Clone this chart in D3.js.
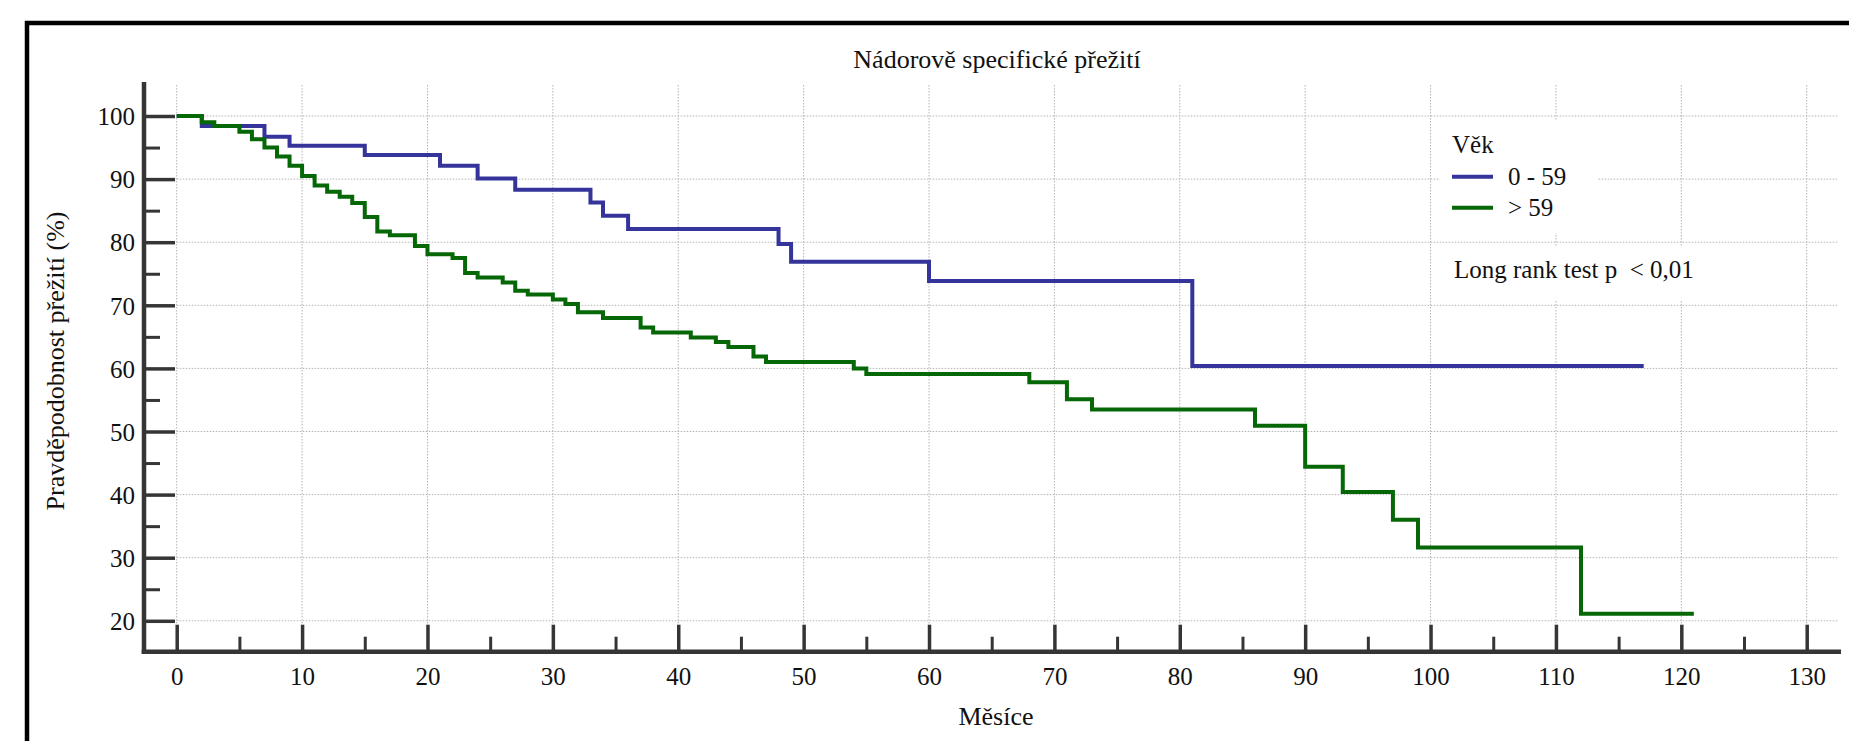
<!DOCTYPE html>
<html>
<head>
<meta charset="utf-8">
<script src="https://cdn.jsdelivr.net/npm/d3@7"></script>
<style>
  html, body { margin: 0; padding: 0; background: #fff; }
  svg { display: block; }
  text { font-family: "Liberation Serif", "Times New Roman", serif; fill: #111; }
</style>
</head>
<body>
<svg id="chart" width="1849" height="741"></svg>
<script>
// ---- Data ----
const seriesNames = ["0 - 59", "> 59"];
const seriesColors = ["#34349a", "#056705"];

// Kaplan-Meier step curve: age 0-59
const youngMonths = [0, 2, 7, 9, 15, 21, 24, 27, 33, 34, 36, 48, 49, 60, 81, 117];
const youngSurvival = [100, 98.4, 96.7, 95.3, 93.8, 92.1, 90.1, 88.3, 86.3, 84.2, 82.1, 79.7, 76.9, 73.85, 60.4, 60.4];

// Kaplan-Meier step curve: age > 59
const oldMonths = [0, 2, 3, 5, 6, 7, 8, 9, 10, 11, 12, 13, 14, 15, 16, 17, 19, 20, 22, 23, 24, 26, 27, 28, 30, 31, 32, 34, 37, 38, 41, 43, 44, 46, 47, 54, 55, 68, 71, 73, 86, 90, 93, 97, 99, 112, 121];
const oldSurvival = [100, 99.0, 98.4, 97.5, 96.3, 95.0, 93.6, 92.1, 90.5, 89.0, 88.0, 87.2, 86.2, 84.0, 81.7, 81.1, 79.4, 78.1, 77.5, 75.1, 74.4, 73.6, 72.3, 71.7, 70.9, 70.2, 68.9, 68.0, 66.5, 65.7, 64.9, 64.2, 63.4, 61.9, 61.0, 60.0, 59.1, 57.8, 55.1, 53.5, 50.9, 44.4, 40.4, 36.0, 31.6, 21.1, 21.1];

const xMajorTicks = [0, 10, 20, 30, 40, 50, 60, 70, 80, 90, 100, 110, 120, 130];
const xMinorTicks = [5, 15, 25, 35, 45, 55, 65, 75, 85, 95, 105, 115, 125];
const yMajorTicks = [20, 30, 40, 50, 60, 70, 80, 90, 100];
const yMinorTicks = [25, 35, 45, 55, 65, 75, 85, 95];

const titleText = "Nádorově specifické přežití";
const xLabel = "Měsíce";
const yLabel = "Pravděpodobnost přežití (%)";
const legendTitle = "Věk";
const testText = "Long rank test p < 0,01";

// ---- Layout ----
const svg = d3.select("#chart");
const x = d3.scaleLinear().domain([0, 130]).range([176.7, 1806.7]);
const y = d3.scaleLinear().domain([20, 100]).range([620.8, 116]);
const axisX = 144;      // position of vertical axis line
const axisY = 651.7;    // position of horizontal axis line
const axisColor = "#353535";

// Outer frame
svg.append("path")
  .attr("d", "M27,741V23H1849")
  .attr("fill", "none").attr("stroke", "#000").attr("stroke-width", 4.5);

// Grid
const grid = svg.append("g")
  .attr("stroke", "#b4b4b4").attr("stroke-width", 1).attr("stroke-dasharray", "1.5,1.5");
grid.selectAll("line.v").data(xMajorTicks).join("line")
  .attr("x1", d => x(d)).attr("x2", d => x(d))
  .attr("y1", 85).attr("y2", axisY - 2);
grid.selectAll("line.h").data(yMajorTicks).join("line")
  .attr("x1", x(0)).attr("x2", 1838)
  .attr("y1", d => y(d)).attr("y2", d => y(d));

// White backgrounds behind legend and test text
svg.append("rect").attr("x", 1440).attr("y", 120).attr("width", 157).attr("height", 113).attr("fill", "#fff");
svg.append("rect").attr("x", 1440).attr("y", 246).attr("width", 262).attr("height", 54).attr("fill", "#fff");

// Curves
const line = d3.line()
  .x(d => x(d[0])).y(d => y(d[1]))
  .curve(d3.curveStepAfter);

const curves = [
  d3.zip(youngMonths, youngSurvival),
  d3.zip(oldMonths, oldSurvival)
];
curves.forEach((pts, i) => {
  svg.append("path")
    .datum(pts)
    .attr("d", line)
    .attr("fill", "none")
    .attr("stroke", seriesColors[i])
    .attr("stroke-width", 4)
    .attr("stroke-linejoin", "miter")
    .attr("stroke-linecap", "butt");
});

// Y axis (ticks pointing inward to the right)
const yAxisG = svg.append("g").attr("transform", `translate(${axisX},0)`);
yAxisG.call(d3.axisLeft(y).tickValues(yMajorTicks).tickSize(-31).tickPadding(9).tickFormat(d3.format("d")));
yAxisG.select(".domain").remove();
yAxisG.selectAll(".tick line").attr("stroke", axisColor).attr("stroke-width", 3.5);
yAxisG.selectAll(".tick text")
  .attr("font-size", 25).attr("font-family", "Liberation Serif, Times New Roman, serif")
  .attr("fill", "#111").attr("dy", "0.35em");

const yMinorG = svg.append("g").attr("transform", `translate(${axisX},0)`);
yMinorG.call(d3.axisLeft(y).tickValues(yMinorTicks).tickSize(-16).tickFormat(""));
yMinorG.select(".domain").remove();
yMinorG.selectAll(".tick line").attr("stroke", axisColor).attr("stroke-width", 3);

// X axis (ticks pointing upward)
const xAxisG = svg.append("g").attr("transform", `translate(0,${axisY})`);
xAxisG.call(d3.axisBottom(x).tickValues(xMajorTicks).tickSize(-27).tickPadding(16).tickFormat(d3.format("d")));
xAxisG.select(".domain").remove();
xAxisG.selectAll(".tick line").attr("stroke", axisColor).attr("stroke-width", 3.5);
xAxisG.selectAll(".tick text")
  .attr("font-size", 25).attr("font-family", "Liberation Serif, Times New Roman, serif")
  .attr("fill", "#111");

const xMinorG = svg.append("g").attr("transform", `translate(0,${axisY})`);
xMinorG.call(d3.axisBottom(x).tickValues(xMinorTicks).tickSize(-15).tickFormat(""));
xMinorG.select(".domain").remove();
xMinorG.selectAll(".tick line").attr("stroke", axisColor).attr("stroke-width", 3);

// Axis lines
svg.append("line").attr("x1", axisX).attr("x2", axisX).attr("y1", 82).attr("y2", axisY + 2.3)
  .attr("stroke", axisColor).attr("stroke-width", 4.5);
svg.append("line").attr("x1", axisX - 2.3).attr("x2", 1841).attr("y1", axisY).attr("y2", axisY)
  .attr("stroke", axisColor).attr("stroke-width", 4.5);

// Title and axis labels
svg.append("text").attr("x", 997).attr("y", 68).attr("text-anchor", "middle")
  .attr("font-size", 26).text(titleText);
svg.append("text").attr("x", 996).attr("y", 725).attr("text-anchor", "middle")
  .attr("font-size", 26).text(xLabel);
svg.append("text").attr("transform", "translate(64,361) rotate(-90)").attr("text-anchor", "middle")
  .attr("font-size", 26).text(yLabel);

// Legend
svg.append("text").attr("x", 1452).attr("y", 153).attr("font-size", 25).text(legendTitle);
const legendRows = [176.7, 207.7];
seriesNames.forEach((name, i) => {
  svg.append("line")
    .attr("x1", 1452).attr("x2", 1493)
    .attr("y1", legendRows[i]).attr("y2", legendRows[i])
    .attr("stroke", seriesColors[i]).attr("stroke-width", 4);
  svg.append("text").attr("x", 1508).attr("y", legendRows[i] + 8.5)
    .attr("font-size", 25).text(name);
});
svg.append("text").attr("x", 1454).attr("y", 278).attr("font-size", 25)
  .attr("xml:space", "preserve").style("white-space", "pre").text("Long rank test p  < 0,01");
</script>
</body>
</html>
